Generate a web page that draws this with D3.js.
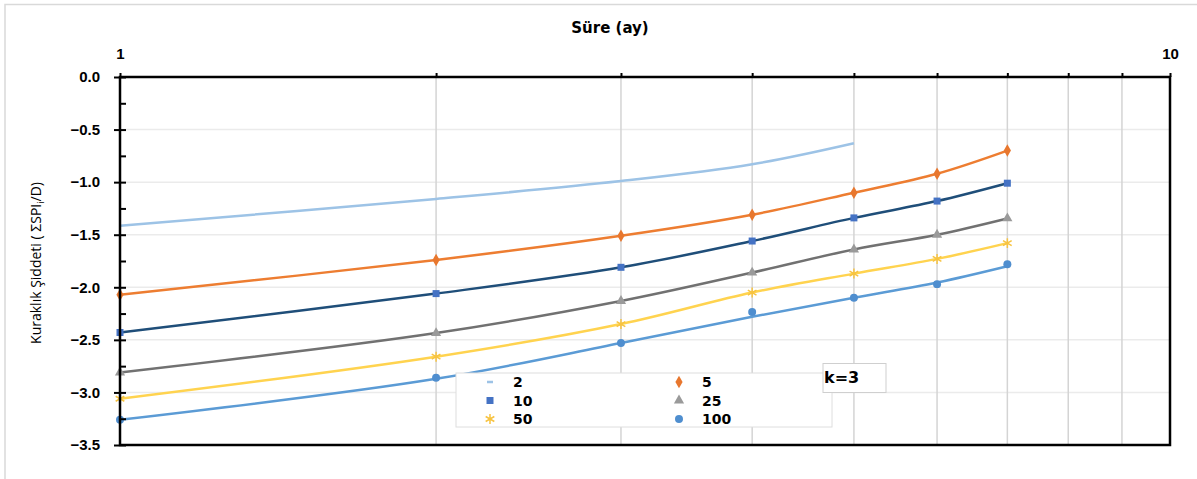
<!DOCTYPE html>
<html>
<head>
<meta charset="utf-8">
<script src="https://cdn.jsdelivr.net/npm/d3@7"></script>
<style>
  body { margin: 0; background: #fff; }
  svg { display: block; font-family: "DejaVu Sans", sans-serif; }
</style>
</head>
<body>
<svg id="chart"></svg>
<script>
// süre (ay) değerleri
const durations = [1, 2, 3, 4, 5, 6, 7];
const durations2 = [1, 2, 3, 4, 5];

// tekerrür aralıkları (yıl)
const returnPeriods = ["2", "5", "10", "25", "50", "100"];

// kuraklık şiddeti değerleri
const values2 = [-1.415, -1.16, -0.99, -0.83, -0.63];
const values5 = [-2.07, -1.74, -1.51, -1.31, -1.10, -0.92, -0.70];
const values10 = [-2.43, -2.06, -1.81, -1.56, -1.34, -1.18, -1.01];
const values25 = [-2.81, -2.435, -2.13, -1.86, -1.64, -1.50, -1.345];
const values50 = [-3.06, -2.66, -2.35, -2.05, -1.87, -1.73, -1.58];
const values100 = [-3.26, -2.86, -2.53, -2.235, -2.10, -1.97, -1.78];
// 100 yıl için eğri, noktalardan biraz sapıyor
const fit100 = [-3.26, -2.87, -2.53, -2.28, -2.10, -1.955, -1.80];

const xTicks = [1, 2, 3, 4, 5, 6, 7, 8, 9, 10];
const yTicks = [0, -0.5, -1, -1.5, -2, -2.5, -3, -3.5];
const yMinorTicks = d3.range(0, -3.51, -0.25);

const width = 1197, height = 479;
const plotLeft = 120, plotRight = 1170, plotTop = 77, plotBottom = 445;

const svg = d3.select("#chart").attr("width", width).attr("height", height);

// dış çerçeve
svg.append("rect")
  .attr("x", 5).attr("y", 4.5)
  .attr("width", 1200).attr("height", 500)
  .attr("fill", "none")
  .attr("stroke", "#d9d9d9")
  .attr("stroke-width", 1.5);

var x = d3.scaleLog().domain([1, 10]).range([plotLeft, plotRight]);
var y = d3.scaleLinear().domain([0, -3.5]).range([plotTop, plotBottom]);

// ızgara çizgileri
svg.append("g")
  .selectAll("line")
  .data(yTicks.slice(1, -1))
  .enter()
  .append("line")
  .attr("x1", plotLeft).attr("x2", plotRight)
  .attr("y1", (d) => y(d)).attr("y2", (d) => y(d))
  .attr("stroke", "#ebebeb")
  .attr("stroke-width", 1.5);

svg.append("g")
  .selectAll("line")
  .data(xTicks.slice(1, -1))
  .enter()
  .append("line")
  .attr("x1", (d) => x(d)).attr("x2", (d) => x(d))
  .attr("y1", plotTop).attr("y2", plotBottom)
  .attr("stroke", "#d4d4d4")
  .attr("stroke-width", 1.5);

const series = [
  { name: "2", xs: durations2, line: values2, marks: null, lineColor: "#9dc3e6", markColor: "#9dc3e6", symbol: null },
  { name: "5", xs: durations, line: values5, marks: values5, lineColor: "#ed7d31", markColor: "#e8772e", symbol: d3.symbolDiamond },
  { name: "10", xs: durations, line: values10, marks: values10, lineColor: "#1f4e79", markColor: "#4472c4", symbol: d3.symbolSquare },
  { name: "25", xs: durations, line: values25, marks: values25, lineColor: "#717171", markColor: "#9a9a9a", symbol: d3.symbolTriangle },
  { name: "50", xs: durations, line: values50, marks: values50, lineColor: "#ffd34f", markColor: "#f7c340", symbol: d3.symbolAsterisk },
  { name: "100", xs: durations, line: fit100, marks: values100, lineColor: "#5b9bd5", markColor: "#4f8ecf", symbol: d3.symbolCircle }
];

const symbolSize = { "5": 45, "10": 49, "25": 45, "50": 70, "100": 50 };

var lineGen = d3.line()
  .x((d) => x(d[0]))
  .y((d) => y(d[1]))
  .curve(d3.curveCatmullRom.alpha(0.5));

const plot = svg.append("g").attr("class", "plot");

series.forEach((s) => {
  plot.append("path")
    .datum(s.xs.map((v, i) => [v, s.line[i]]))
    .attr("d", lineGen)
    .attr("fill", "none")
    .attr("stroke", s.lineColor)
    .attr("stroke-width", 2.5);
});

series.forEach((s) => {
  if (!s.marks) return;
  const isStroke = s.symbol === d3.symbolAsterisk;
  plot.selectAll(null)
    .data(s.xs.map((v, i) => [v, s.marks[i]]))
    .enter()
    .append("path")
    .attr("transform", (d) => `translate(${x(d[0])},${y(d[1])})`)
    .attr("d", d3.symbol().type(s.symbol).size(symbolSize[s.name]))
    .attr("fill", isStroke ? "none" : s.markColor)
    .attr("stroke", isStroke ? s.markColor : "none")
    .attr("stroke-width", 1.5);
});

// eksenler
svg.append("g")
  .attr("transform", `translate(0,${plotTop})`)
  .call(d3.axisTop(x).tickValues(xTicks).tickSize(4).tickPadding(14)
    .tickFormat((d) => (d === 1 || d === 10 ? d : "")))
  .call((g) => g.select(".domain").remove())
  .call((g) => g.selectAll(".tick line").attr("stroke", "#000").attr("stroke-width", 2))
  .call((g) => g.selectAll("text").attr("fill", "#000").attr("font-size", 15).attr("font-weight", "bold"));

svg.append("g")
  .attr("transform", `translate(${plotLeft},0)`)
  .call(d3.axisLeft(y).tickValues(yTicks).tickSize(6).tickPadding(14).tickFormat(d3.format(".1f")))
  .call((g) => g.select(".domain").remove())
  .call((g) => g.selectAll(".tick line").attr("stroke", "#000").attr("stroke-width", 2))
  .call((g) => g.selectAll("text").attr("fill", "#000").attr("font-size", 15).attr("font-weight", "bold"));

svg.append("g")
  .attr("transform", `translate(${plotLeft},0)`)
  .call(d3.axisRight(y).tickValues(yMinorTicks).tickSize(6).tickFormat(""))
  .call((g) => g.select(".domain").remove())
  .call((g) => g.selectAll(".tick line").attr("stroke", "#000").attr("stroke-width", 2));

// çerçeve
svg.append("rect")
  .attr("x", plotLeft).attr("y", plotTop)
  .attr("width", plotRight - plotLeft).attr("height", plotBottom - plotTop)
  .attr("fill", "none")
  .attr("stroke", "#000")
  .attr("stroke-width", 2.5);

// eksen başlıkları
svg.append("text")
  .attr("x", 610).attr("y", 33)
  .attr("text-anchor", "middle")
  .attr("font-size", 15)
  .attr("font-weight", "bold")
  .text("Süre (ay)");

const yTitle = svg.append("text")
  .attr("transform", "translate(41,263) rotate(-90)")
  .attr("text-anchor", "middle")
  .attr("font-family", "'Open Sans', sans-serif")
  .attr("font-size", 14)
  .attr("fill", "#000");
yTitle.append("tspan").text("Kuraklık Şiddeti ( ΣSPI");
yTitle.append("tspan").attr("font-size", 9).attr("dy", 3).text("i");
yTitle.append("tspan").attr("dy", -3).text("/D)");

// lejant
const legend = svg.append("g").attr("class", "legend");
legend.append("rect")
  .attr("x", 456).attr("y", 373)
  .attr("width", 376).attr("height", 54)
  .attr("fill", "#fff")
  .attr("stroke", "#dedede");

const colX = [490, 679];
const rowY = [382, 400.5, 419];

series.forEach((s, i) => {
  const cx = colX[i % 2], cy = rowY[Math.floor(i / 2)];
  if (!s.symbol) {
    legend.append("line")
      .attr("x1", cx - 3).attr("x2", cx + 3)
      .attr("y1", cy).attr("y2", cy)
      .attr("stroke", s.markColor)
      .attr("stroke-width", 2.5);
  } else {
    const isStroke = s.symbol === d3.symbolAsterisk;
    legend.append("path")
      .attr("transform", `translate(${cx},${cy})`)
      .attr("d", d3.symbol().type(s.symbol).size(symbolSize[s.name]))
      .attr("fill", isStroke ? "none" : s.markColor)
      .attr("stroke", isStroke ? s.markColor : "none")
      .attr("stroke-width", 1.5);
  }
  legend.append("text")
    .attr("x", cx + 23).attr("y", cy + 5)
    .attr("font-size", 14)
    .attr("font-weight", "bold")
    .text(s.name);
});

// k=3 kutusu
svg.append("rect")
  .attr("x", 823).attr("y", 363.5)
  .attr("width", 63).attr("height", 29)
  .attr("fill", "#fff")
  .attr("stroke", "#cfcfcf");
svg.append("text")
  .attr("x", 824).attr("y", 383)
  .attr("font-size", 16)
  .attr("font-weight", "bold")
  .text("k=3");
</script>
</body>
</html>
